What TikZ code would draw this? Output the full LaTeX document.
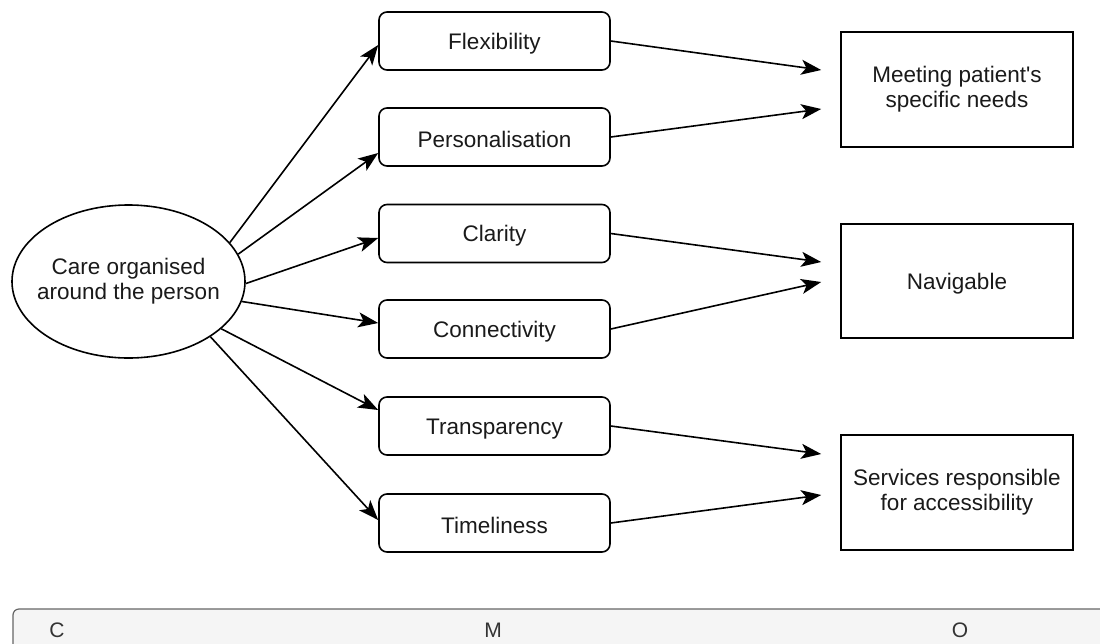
\documentclass[tikz,border=0pt]{standalone}
\usepackage{fontspec}
\setmainfont{Liberation Sans}
\usetikzlibrary{arrows.meta,shapes.geometric}
\definecolor{barfill}{HTML}{F5F5F5}
\definecolor{barline}{HTML}{666666}
\definecolor{bartext}{HTML}{333333}
\definecolor{ink}{HTML}{1A1A1A}
\tikzset{
  base/.style={draw=black, line width=1.6pt, fill=white, text=ink, font=\fontsize{22.5}{25}\selectfont, align=center, inner sep=0pt,
    execute at begin node={\rule{0pt}{21.5pt}}},
  oval/.style={base, ellipse, inner xsep=-20pt, minimum width=233pt, minimum height=153pt},
  midbox/.style={base, rectangle, rounded corners=8pt, minimum width=231pt, minimum height=58pt},
  outbox/.style={base, rectangle, minimum width=232pt, minimum height=115pt},
  conn/.style={line width=1.6pt, -{Stealth[length=20pt,width=15pt,inset=5pt]}},
  bartxt/.style={font=\fontsize{21}{24}\selectfont, text=bartext, inner sep=0pt}
}
\begin{document}
\begin{tikzpicture}[x=1pt,y=-1pt]
\useasboundingbox (0,0) rectangle (1100,643);
\clip (0,0) rectangle (1100,643);
\fill[white] (0,0) rectangle (1100,643);

\node[oval] (care) at (128.5,281.5) {Care organised\\around the person};

\node[midbox] (flex) at (494.5,41) {Flexibility};
\node[midbox] (pers) at (494.5,137) {Personalisation};
\node[midbox] (clar) at (494.5,233.5) {Clarity};
\node[midbox] (conx) at (494.5,329) {Connectivity};
\node[midbox] (tran) at (494.5,426) {Transparency};
\node[midbox] (time) at (494.5,523) {Timeliness};

\node[outbox] (meet) at (957,89.5) {Meeting patient\textquotesingle s\\specific needs};
\node[outbox, minimum height=114pt] (navi) at (957,281) {Navigable};
\node[outbox] (serv) at (957,492.5) {Services responsible\\for accessibility};

\draw[conn] (care.21.9) -- ([yshift=-4pt]flex.west);
\draw[conn] (care.14.7) -- ([yshift=-16pt]pers.west);
\draw[conn] (care.-1.75) -- ([yshift=-4.5pt]clar.west);
\draw[conn] (care.-10.1) -- ([yshift=6pt]conx.west);
\draw[conn] (care.-27.4) -- ([yshift=16pt]tran.west);
\draw[conn] (care.-34.1) -- ([yshift=3pt]time.west);

\draw[conn] (flex.east) -- ([xshift=-19pt,yshift=19.5pt]meet.west);
\draw[conn] (pers.east) -- ([xshift=-19pt,yshift=-19.5pt]meet.west);
\draw[conn] (clar.east) -- ([xshift=-19pt,yshift=19pt]navi.west);
\draw[conn] (conx.east) -- ([xshift=-19pt,yshift=-1pt]navi.west);
\draw[conn] (tran.east) -- ([xshift=-19pt,yshift=38.5pt]serv.west);
\draw[conn] (time.east) -- ([xshift=-19pt,yshift=-2.5pt]serv.west);

\draw[fill=barfill, draw=barline, line width=1.2pt, rounded corners=6pt] (13,660) -- (13,609) -- (1115,609) -- (1115,660);
\node[bartxt] (cl) at (57,630) {C};
\node[bartxt] (ml) at (493,630) {M};
\node[bartxt] (ol) at (960,630) {O};
\end{tikzpicture}
\end{document}
